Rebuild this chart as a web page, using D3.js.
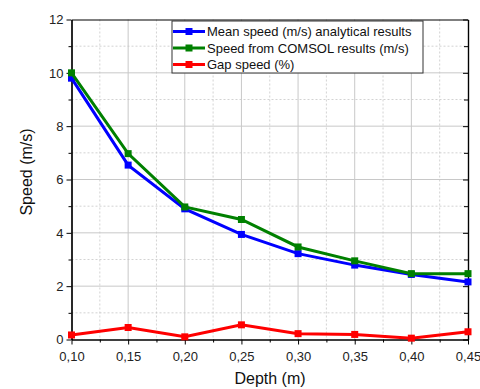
<!DOCTYPE html>
<html><head><meta charset="utf-8">
<script src="https://cdn.jsdelivr.net/npm/d3@7"></script>
<style>body{margin:0;background:#fff}svg{display:block}text{font-family:"Liberation Sans",Arial,sans-serif}</style>
</head><body><svg id="c" width="480" height="389"></svg>
<script>
const depth = [0.10,0.15,0.20,0.25,0.30,0.35,0.40,0.45];
const meanAnalytical = [9.8,6.54,4.9,3.94,3.22,2.79,2.44,2.16];
const comsolSpeed = [10.0,6.97,4.97,4.5,3.47,2.95,2.47,2.47];
const gapSpeed = [0.17,0.45,0.1,0.55,0.22,0.19,0.05,0.29];
const seriesNames = ["Mean speed (m/s) analytical results","Speed from COMSOL results (m/s)","Gap speed (%)"];
const seriesColors = ["#0000ff","#008000","#ff0000"];
const xTicks = [0.10,0.15,0.20,0.25,0.30,0.35,0.40,0.45];
const yTicks = [0,2,4,6,8,10,12];

const svg = d3.select("#c");
const L=71.5,R=468,T=19.5,B=339.5;
const x = d3.scaleLinear().domain([0.10,0.45]).range([L,R]);
const y = d3.scaleLinear().domain([0,12]).range([B,T]);
const xMinor = d3.range(0.125,0.45,0.05);
const yMinor = d3.range(1,12,2);

const g = svg.append("g");
// minor grid
g.selectAll(".xm").data(xMinor).enter().append("line").attr("x1",d=>x(d)).attr("x2",d=>x(d)).attr("y1",T).attr("y2",B)
 .attr("stroke","#c8c8c8").attr("stroke-dasharray","2,2").attr("stroke-width",0.8);
g.selectAll(".ym").data(yMinor).enter().append("line").attr("y1",d=>y(d)).attr("y2",d=>y(d)).attr("x1",L).attr("x2",R)
 .attr("stroke","#c8c8c8").attr("stroke-dasharray","2,2").attr("stroke-width",0.8);
// major grid
g.selectAll(".xg").data(xTicks.slice(1,-1)).enter().append("line").attr("x1",d=>x(d)).attr("x2",d=>x(d)).attr("y1",T).attr("y2",B)
 .attr("stroke","#c8c8c8").attr("stroke-width",1);
g.selectAll(".yg").data(yTicks.slice(1,-1)).enter().append("line").attr("y1",d=>y(d)).attr("y2",d=>y(d)).attr("x1",L).attr("x2",R)
 .attr("stroke","#c8c8c8").attr("stroke-width",1);

const fmt = d=>d3.format(".2f")(d).replace(".",",");
// axes
const xAxis = svg.append("g").attr("transform",`translate(0,${B})`)
 .call(d3.axisBottom(x).tickValues(xTicks).tickFormat(fmt).tickSize(5).tickSizeOuter(0));
svg.append("g").attr("transform",`translate(0,${B})`)
 .call(d3.axisBottom(x).tickValues(xMinor).tickFormat("").tickSize(3).tickSizeOuter(0));
const yAxis = svg.append("g").attr("transform",`translate(${L},0)`)
 .call(d3.axisLeft(y).tickValues(yTicks).tickSize(5).tickSizeOuter(0));
svg.append("g").attr("transform",`translate(${L},0)`)
 .call(d3.axisLeft(y).tickValues(yMinor).tickFormat("").tickSize(3).tickSizeOuter(0));
// top border & right mirrored ticks
svg.append("g").attr("transform",`translate(0,${T})`)
 .call(d3.axisBottom(x).tickValues([]).tickSizeOuter(0));
svg.append("g").attr("transform",`translate(${R},0)`)
 .call(d3.axisLeft(y).tickValues(yTicks).tickFormat("").tickSize(5).tickSizeOuter(0));
svg.append("g").attr("transform",`translate(${R},0)`)
 .call(d3.axisLeft(y).tickValues(yMinor).tickFormat("").tickSize(4).tickSizeOuter(0));
svg.selectAll(".domain").attr("stroke","#000").attr("stroke-width",1.2);
svg.selectAll(".tick line").attr("stroke","#000");
svg.selectAll(".tick text").attr("font-size",13).attr("fill","#222").style("font-family","Liberation Sans, Arial, sans-serif");
xAxis.selectAll(".tick text").attr("dy","1.05em");

// series
const all=[meanAnalytical,comsolSpeed,gapSpeed];
const line=d3.line().x((d,i)=>x(depth[i])).y(d=>y(d));
[0,1,2].forEach(k=>{
  const s=all[k];
  svg.append("path").attr("d",line(s)).attr("fill","none").attr("stroke",seriesColors[k]).attr("stroke-width",3);
  svg.selectAll(".m"+k).data(s).enter().append("rect")
   .attr("x",(d,i)=>x(depth[i])-3.5).attr("y",d=>y(d)-3.5).attr("width",7).attr("height",7).attr("fill",seriesColors[k]);
});

// legend
const lg=svg.append("g");
lg.append("rect").attr("x",172).attr("y",21).attr("width",251).attr("height",52).attr("fill","#fff").attr("stroke","#333").attr("stroke-width",1);
seriesNames.forEach((n,i)=>{
  const yy=31.5+i*16.5;
  lg.append("line").attr("x1",173).attr("x2",205).attr("y1",yy).attr("y2",yy).attr("stroke",seriesColors[i]).attr("stroke-width",3);
  lg.append("rect").attr("x",185.5).attr("y",yy-3.5).attr("width",7).attr("height",7).attr("fill",seriesColors[i]);
  lg.append("text").attr("x",207).attr("y",yy+4.5).attr("font-size",13).attr("fill","#111").text(n);
});

// titles
svg.append("text").attr("x",270).attr("y",384).attr("text-anchor","middle").attr("font-size",16).attr("fill","#111").text("Depth (m)");
svg.append("text").attr("transform","translate(32,172) rotate(-90)").attr("text-anchor","middle").attr("font-size",16).attr("fill","#111").text("Speed (m/s)");
</script></body></html>
